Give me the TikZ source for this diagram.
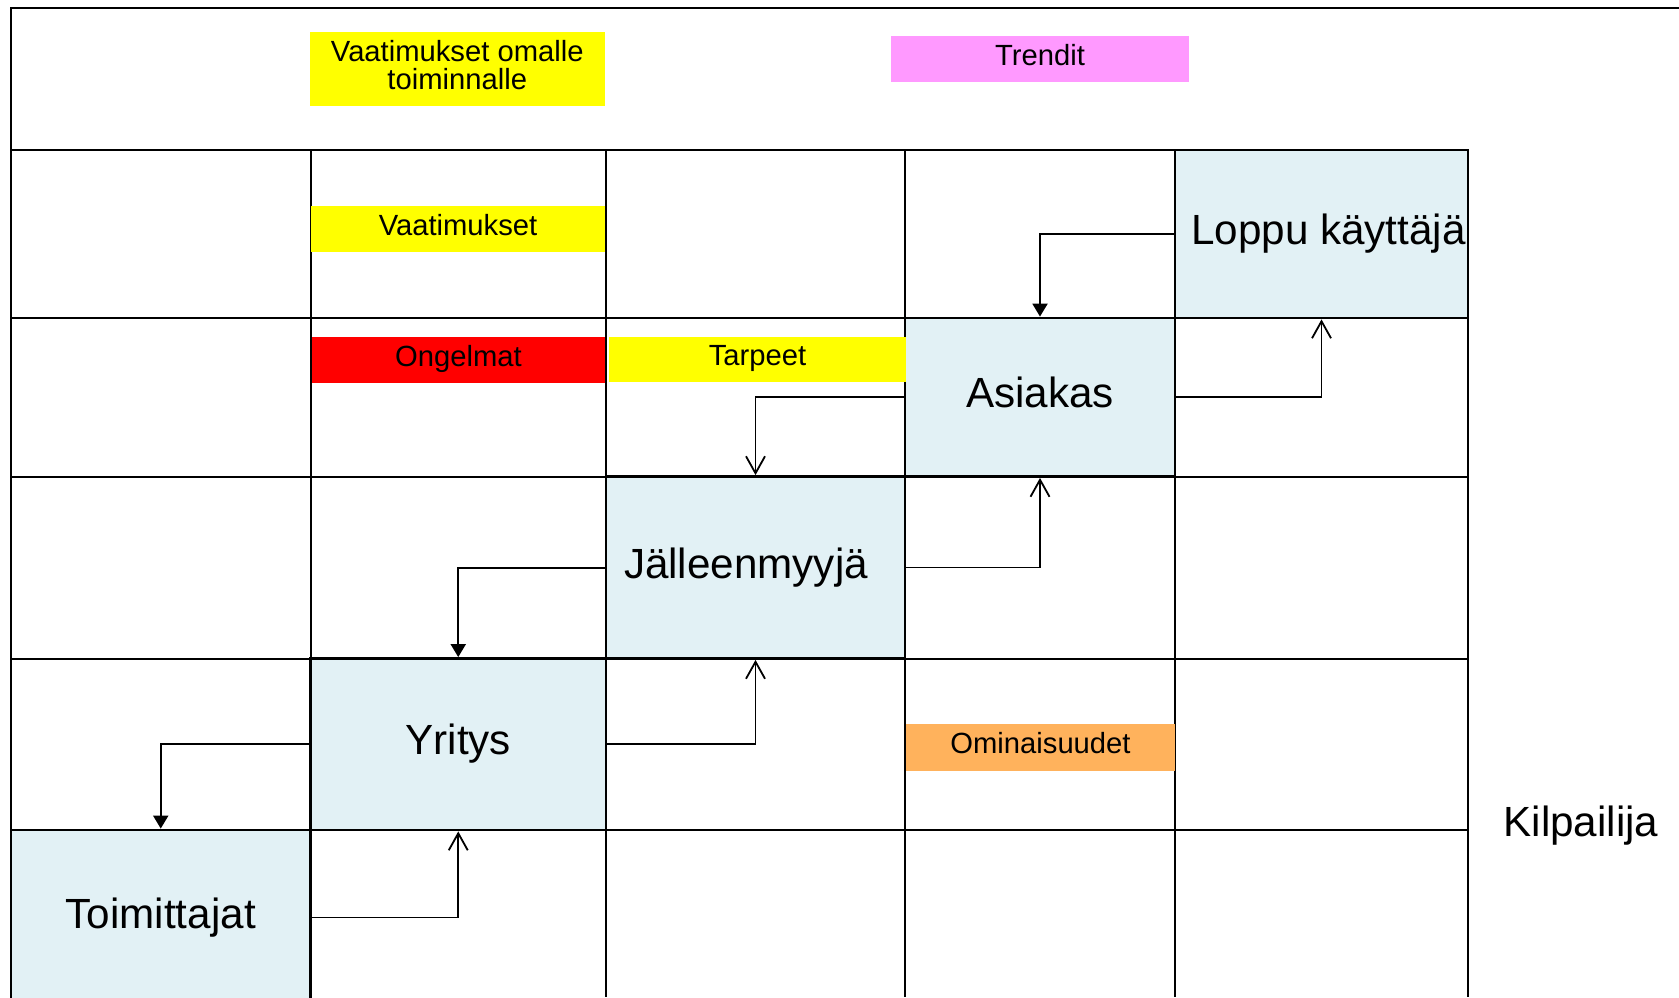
\documentclass[tikz,border=0pt]{standalone}
\usepackage{fontspec}
\setmainfont{Liberation Sans}
\usetikzlibrary{arrows.meta}
\definecolor{boxblue}{HTML}{E2F1F5}
\definecolor{tagyellow}{HTML}{FFFF00}
\definecolor{tagpink}{HTML}{FF99FF}
\definecolor{tagred}{HTML}{FF0000}
\definecolor{tagorange}{HTML}{FFB25C}
\begin{document}
\begin{tikzpicture}[x=0.5pt,y=-0.5pt,
  gridline/.style={line width=1pt},
  actor/.style={draw=black, line width=1.4pt, fill=boxblue, inner sep=0pt,
    font=\fontsize{21.1}{24}\selectfont, text height=15.8pt, text depth=5.3pt},
  tag/.style={inner sep=0pt, font=\fontsize{14.6}{13.8}\selectfont,
    text height=10.2pt, text depth=3.9pt},
  tagtwo/.style={inner sep=0pt, align=center, font=\fontsize{14.6}{13.8}\selectfont},
  fillarrow/.style={line width=1pt, -{Triangle[length=6.5pt,width=7.5pt]}},
  openarrow/.style={line width=0.9pt, -{Straight Barb[length=8.5pt,width=9.5pt]}},
]
\useasboundingbox (0,0) rectangle (1679,997);
% frame and grid
\draw[gridline] (1679,8) -- (11,8) -- (11,997);
\foreach \yy in {150,318,476.5,658.5,830} {
  \draw[gridline] (11,\yy) -- (1468,\yy);
}
\foreach \xx in {310.5,606,905,1175,1468} {
  \draw[gridline] (\xx,150) -- (\xx,997);
}
% actor boxes
\node[actor, minimum width=149.75pt, minimum height=87.5pt] (toim) at (160.75,917.5) {Toimittajat};
\node[actor, minimum width=147.75pt, minimum height=85.75pt] (yritys) at (458.25,744.25) {Yritys};
\node[actor, minimum width=149.5pt, minimum height=91pt] (jm) at (755.5,567.5) {Jälleenmyyjä\hspace*{9.5pt}};
\node[actor, minimum width=135pt, minimum height=79.25pt] (asiakas) at (1040,397.25) {Asiakas};
\node[actor, minimum width=146.5pt, minimum height=84pt] (loppu) at (1321.5,234) {\hspace*{7pt}Loppu käyttäjä};
% tags
\node[tagtwo, fill=tagyellow, minimum width=147.75pt, minimum height=37pt, text depth=4.3pt] (vaomat) at (457.25,69) {Vaatimukset omalle\\toiminnalle};
\node[tag, fill=tagpink, minimum width=149pt, minimum height=22.75pt] (trendit) at (1040,58.75) {Trendit};
\node[tag, fill=tagyellow, minimum width=147pt, minimum height=23pt] (vaat) at (458,229) {Vaatimukset};
\node[tag, fill=tagred, minimum width=146.5pt, minimum height=23pt] (ongelmat) at (458.5,360) {Ongelmat};
\node[tag, fill=tagyellow, minimum width=148.5pt, minimum height=22.5pt] (tarpeet) at (757.5,359.5) {Tarpeet};
\node[tag, fill=tagorange, minimum width=134.5pt, minimum height=23.25pt] (omin) at (1040.5,747.25) {Ominaisuudet};
\node[font=\fontsize{21.1}{24}\selectfont, inner sep=0pt] (kilp) at (1581,826) {Kilpailija};
% connectors
\draw[fillarrow] (loppu.west) -| (asiakas.north);
\draw[openarrow] (asiakas.east) -| (loppu.south);
\draw[openarrow] (asiakas.west) -| (jm.north);
\draw[openarrow] (jm.east) -| (asiakas.south);
\draw[fillarrow] (jm.west) -| (yritys.north);
\draw[openarrow] (yritys.east) -| (jm.south);
\draw[fillarrow] (yritys.west) -| (toim.north);
\draw[openarrow] (toim.east) -| (yritys.south);
\end{tikzpicture}
\end{document}
